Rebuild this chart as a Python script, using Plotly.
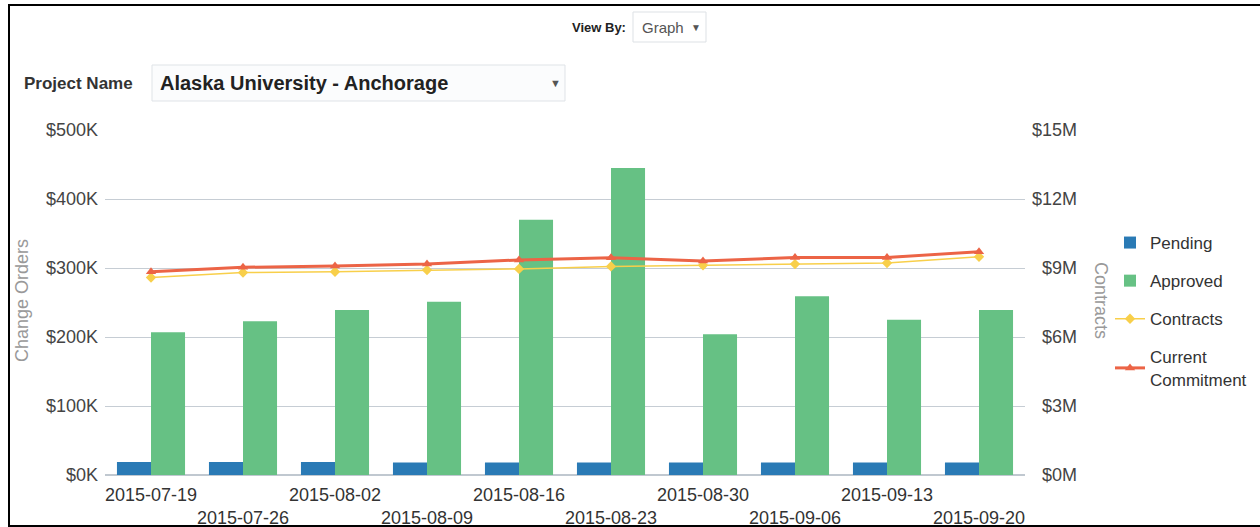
import plotly.graph_objects as go

# ---- data ----
weeks = ["2015-07-19", "2015-07-26", "2015-08-02", "2015-08-09", "2015-08-16",
         "2015-08-23", "2015-08-30", "2015-09-06", "2015-09-13", "2015-09-20"]
pending = [19000, 19000, 19000, 18000, 18000, 18000, 18000, 18000, 18000, 18000]
approved = [207000, 223000, 239000, 251000, 370000, 445000, 204000, 259000, 225000, 239000]
contracts = [8.59e6, 8.80e6, 8.84e6, 8.91e6, 8.96e6, 9.07e6, 9.12e6, 9.17e6, 9.22e6, 9.49e6]
commitment = [8.84e6, 9.03e6, 9.09e6, 9.17e6, 9.35e6, 9.45e6, 9.30e6, 9.46e6, 9.46e6, 9.71e6]

left_tickvals = [0, 100000, 200000, 300000, 400000, 500000]
left_ticktext = ["$0K", "$100K", "$200K", "$300K", "$400K", "$500K"]
right_tickvals = [0, 3e6, 6e6, 9e6, 12e6, 15e6]
right_ticktext = ["\u2007$0M", "\u2007$3M", "\u2007$6M", "\u2007$9M", "$12M", "$15M"]
x_ticktext = [w if i % 2 == 0 else "<br>" + w for i, w in enumerate(weeks)]

# ---- geometry helpers ----
FW, FH = 1260, 527
L, R, T, B = 105, 1025, 130, 475
def cx(x):
    return x / FW
def cy(y):
    return 1 - y / FH
def px(x):
    return (x - L) / (R - L)
def py(y):
    return (B - y) / (B - T)

FONT = "Liberation Sans, Arial, sans-serif"
BLUE = "#2a7ab5"
GREEN = "#66c184"
YELLOW = "#f8cf4a"
RED = "#ec6446"

fig = go.Figure()
fig.add_trace(go.Bar(x=weeks, y=pending, name="Pending", marker=dict(color=BLUE, line=dict(width=0)),
                     legendgroup="a", hoverinfo="skip"))
fig.add_trace(go.Bar(x=weeks, y=approved, name="Approved", marker=dict(color=GREEN, line=dict(width=0)),
                     legendgroup="b", hoverinfo="skip"))
fig.add_trace(go.Scatter(x=weeks, y=contracts, name="Contracts", yaxis="y2", mode="lines+markers",
                         line=dict(color=YELLOW, width=1.5),
                         marker=dict(symbol="diamond", size=8, color=YELLOW),
                         legendgroup="c", hoverinfo="skip"))
fig.add_trace(go.Scatter(x=weeks, y=commitment, name="Current<br>Commitment", yaxis="y2", mode="lines+markers",
                         line=dict(color=RED, width=3),
                         marker=dict(symbol="triangle-up", size=9, color=RED),
                         legendgroup="d", hoverinfo="skip"))

shapes = [
    dict(type="rect", xref="paper", yref="paper", x0=px(9), x1=px(1275), y0=py(526), y1=py(5),
         line=dict(color="black", width=2), fillcolor="rgba(0,0,0,0)", layer="above"),
    dict(type="rect", xref="paper", yref="paper", x0=px(633), x1=px(706), y0=py(42), y1=py(12),
         line=dict(color="#dde1e5", width=1), fillcolor="#ffffff"),
    dict(type="rect", xref="paper", yref="paper", x0=px(152), x1=px(565), y0=py(101), y1=py(65),
         line=dict(color="#dfe3e7", width=1), fillcolor="#fbfcfd"),
]

annotations = [
    dict(text="<b>View By:</b>", x=px(628), y=py(27), xref="paper", yref="paper", xanchor="right",
         yanchor="middle", showarrow=False, font=dict(family=FONT, size=13, color="#222")),
    dict(text="Graph", x=px(640), y=py(27), xref="paper", yref="paper", xanchor="left",
         yanchor="middle", showarrow=False, font=dict(family=FONT, size=15, color="#555")),
    dict(text="\u25BC", x=px(696), y=py(27), xref="paper", yref="paper", xanchor="center",
         yanchor="middle", showarrow=False, font=dict(family=FONT, size=10, color="#555")),
    dict(text="<b>Project Name</b>", x=px(22), y=py(83), xref="paper", yref="paper", xanchor="left",
         yanchor="middle", showarrow=False, font=dict(family=FONT, size=17, color="#333")),
    dict(text="<b>Alaska University - Anchorage</b>", x=px(158), y=py(83), xref="paper", yref="paper",
         xanchor="left", yanchor="middle", showarrow=False, font=dict(family=FONT, size=20, color="#222")),
    dict(text="\u25BC", x=px(555), y=py(83), xref="paper", yref="paper", xanchor="center",
         yanchor="middle", showarrow=False, font=dict(family=FONT, size=11, color="#555")),
    dict(text="Change Orders", x=px(22), y=py(301), xref="paper", yref="paper", xanchor="center",
         yanchor="middle", textangle=-90, showarrow=False, font=dict(family=FONT, size=18, color="#999")),
    dict(text="Contracts", x=px(1101), y=py(300), xref="paper", yref="paper", xanchor="center",
         yanchor="middle", textangle=90, showarrow=False, font=dict(family=FONT, size=18, color="#999")),
]

fig.update_layout(
    width=FW, height=FH,
    margin=dict(l=L, r=FW - R, t=T, b=FH - B, pad=0, autoexpand=False),
    paper_bgcolor="white", plot_bgcolor="white",
    barmode="group", bargap=0.26, bargroupgap=0,
    font=dict(family=FONT, size=18, color="#333"),
    showlegend=True,
    legend=dict(xref="container", yref="container", x=cx(1110), y=cy(225),
                xanchor="left", yanchor="top",
                traceorder="grouped", tracegroupgap=13, borderwidth=0,
                font=dict(family=FONT, size=17, color="#333"),
                bgcolor="rgba(0,0,0,0)", itemwidth=30),
    xaxis=dict(type="category", tickvals=weeks, ticktext=x_ticktext, showgrid=False,
               range=[-0.5, len(weeks) - 0.5],
               showline=False, zeroline=False, ticks="", ticklabelstandoff=7,
               tickfont=dict(family=FONT, size=18, color="#333"), tickangle=0, automargin=False),
    yaxis=dict(range=[0, 500000], tickvals=left_tickvals, ticktext=left_ticktext,
               showgrid=True, gridcolor="#c6cdd4", gridwidth=1,
               zeroline=True, zerolinecolor="#c0c8d0", zerolinewidth=2,
               showline=False, ticks="", ticklabelstandoff=6,
               tickfont=dict(family=FONT, size=18, color="#444"), automargin=False),
    yaxis2=dict(range=[0, 15e6], tickvals=right_tickvals, ticktext=right_ticktext,
                overlaying="y", side="right", showgrid=False, zeroline=False,
                showline=False, ticks="", ticklabelstandoff=6,
                tickfont=dict(family=FONT, size=18, color="#444"), automargin=False),
    shapes=shapes,
    annotations=annotations,
)

fig.write_html("out.html",
               post_script="document.body.style.margin='0';document.body.style.overflow='hidden';"
                           "document.documentElement.style.overflow='hidden';",
               config={"displayModeBar": False})
